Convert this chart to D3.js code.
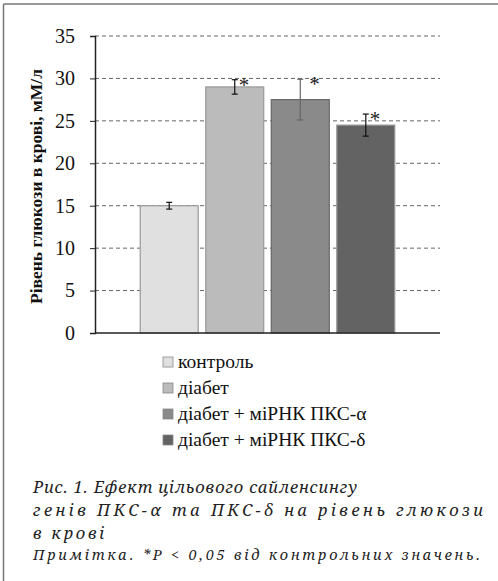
<!DOCTYPE html>
<html>
<head>
<meta charset="utf-8">
<script src="https://cdn.jsdelivr.net/npm/d3@7"></script>
<style>
  body { margin: 0; background: #fff; }
</style>
</head>
<body>
<div id="chart"></div>
<script>
// дані
var groups = ["контроль", "діабет", "діабет + міРНК ПКС-α", "діабет + міРНК ПКС-δ"];
var glucose = [15.0, 29.0, 27.5, 24.5];
var errors = [0.4, 0.85, 2.4, 1.3];
var marks = ["", "*", "*", "*"];
var yTicks = [0, 5, 10, 15, 20, 25, 30, 35];
var fills = ["#e0e0e0", "#bbbbbb", "#8a8a8a", "#636363"];
var captionLines = [
  "Рис. 1. Ефект цільового сайленсингу",
  "генів ПКС-α та ПКС-δ на рівень глюкози",
  "в крові"
];
var noteLine = "Примітка. *P < 0,05 від контрольних значень.";

var W = 498, H = 581;
var svg = d3.select("#chart").append("svg").attr("width", W).attr("height", H);

// рамка (видно лише верхній і лівий край)
svg.append("line").attr("x1", 3.5).attr("x2", W).attr("y1", 4).attr("y2", 4)
  .attr("stroke", "#777").attr("stroke-width", 1.5);
svg.append("line").attr("x1", 3.5).attr("x2", 3.5).attr("y1", 4).attr("y2", H)
  .attr("stroke", "#777").attr("stroke-width", 1.5);

var pLeft = 95, pRight = 440, pTop = 36, pBottom = 333;
var serif = "'Liberation Serif', 'Times New Roman', serif";

var y = d3.scaleLinear().domain([0, 35]).range([pBottom, pTop]);
var x = d3.scaleBand().domain(groups).range([pLeft, pRight])
  .paddingInner(0.115).paddingOuter(0.69);

// сітка
svg.append("g").selectAll("line").data(yTicks.filter(function (d) { return d > 0; }))
  .enter().append("line")
  .attr("x1", pLeft).attr("x2", pRight)
  .attr("y1", function (d) { return y(d); }).attr("y2", function (d) { return y(d); })
  .attr("stroke", "#666").attr("stroke-width", 1).attr("stroke-dasharray", "4,3");

// вісь Y
var yAxis = svg.append("g").attr("transform", "translate(" + pLeft + ",0)")
  .call(d3.axisLeft(y).tickValues(yTicks).tickSize(5).tickPadding(15));
yAxis.attr("font-family", serif);
yAxis.select(".domain").attr("stroke", "#222").attr("stroke-width", 1.5);
yAxis.selectAll(".tick line").attr("stroke", "#222");
yAxis.selectAll(".tick text")
  .attr("font-family", serif).attr("font-size", 20).attr("fill", "#111");

// стовпчики
svg.append("g").selectAll("rect").data(groups).enter().append("rect")
  .attr("x", function (d) { return x(d); })
  .attr("width", x.bandwidth())
  .attr("y", function (d, i) { return y(glucose[i]); })
  .attr("height", function (d, i) { return pBottom - y(glucose[i]); })
  .attr("fill", function (d, i) { return fills[i]; })
  .attr("stroke", function (d, i) { return i == 2 ? "#666" : "#999"; })
  .attr("stroke-width", 1.2);

// вісь X (лінія)
svg.append("line").attr("x1", pLeft).attr("x2", pRight).attr("y1", pBottom).attr("y2", pBottom)
  .attr("stroke", "#222").attr("stroke-width", 1.5);

// похибки
var eb = svg.append("g");
groups.forEach(function (g, i) {
  var cx = x(g) + x.bandwidth() / 2;
  var y1 = y(glucose[i] + errors[i]), y2 = y(glucose[i] - errors[i]);
  var col = i == 2 ? "#666" : "#111";
  eb.append("line").attr("x1", cx).attr("x2", cx).attr("y1", y1).attr("y2", y2)
    .attr("stroke", col).attr("stroke-width", 1.2);
  [y1, y2].forEach(function (yy) {
    eb.append("line").attr("x1", cx - 3).attr("x2", cx + 3).attr("y1", yy).attr("y2", yy)
      .attr("stroke", col).attr("stroke-width", 1.2);
  });
  if (marks[i]) {
    eb.append("text").attr("x", cx + (i == 2 ? 9 : 4)).attr("y", y1 + 12)
      .attr("font-family", serif).attr("font-size", 21).attr("fill", "#222")
      .text(marks[i]);
  }
});

// підпис осі Y
svg.append("text")
  .attr("transform", "translate(42," + ((pTop + pBottom) / 2 + 2) + ") rotate(-90)")
  .attr("text-anchor", "middle")
  .attr("font-family", serif).attr("font-weight", "bold").attr("font-size", 17.5)
  .attr("fill", "#111")
  .text("Рівень глюкози в крові, мМ/л");

// легенда
var legend = svg.append("g").selectAll("g").data(groups).enter().append("g")
  .attr("transform", function (d, i) { return "translate(163," + (357 + i * 26) + ")"; });
legend.append("rect").attr("width", 10).attr("height", 10)
  .attr("fill", function (d, i) { return fills[i]; })
  .attr("stroke", "#888").attr("stroke-width", 0.8);
legend.append("text").attr("x", 15).attr("y", 10.5)
  .attr("font-family", serif).attr("font-size", 19.5).attr("fill", "#111")
  .text(function (d) { return d; });

// підпис рисунка (розрядка під ширину рядка, як у журналі)
var capW = [324, 450, 71];
var capFont = "'Noto Serif', 'DejaVu Serif', serif";
svg.append("g").selectAll("text").data(captionLines).enter().append("text")
  .attr("x", 33).attr("y", function (d, i) { return 493 + i * 23; })
  .attr("font-family", capFont).attr("font-style", "italic").attr("font-size", 16.5)
  .attr("fill", "#222")
  .attr("textLength", function (d, i) { return capW[i]; })
  .attr("lengthAdjust", "spacing")
  .text(function (d) { return d; });
svg.append("text").attr("x", 33).attr("y", 560)
  .attr("font-family", capFont).attr("font-style", "italic").attr("font-size", 14.5)
  .attr("fill", "#222")
  .attr("textLength", 447).attr("lengthAdjust", "spacing")
  .text(noteLine);
</script>
</body>
</html>
